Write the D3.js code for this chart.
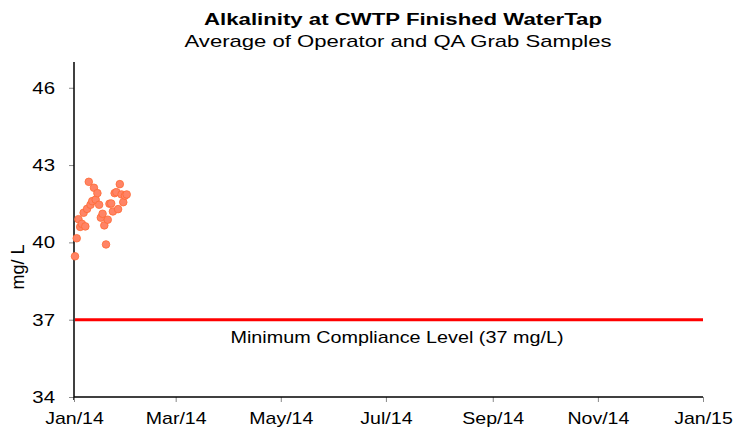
<!DOCTYPE html>
<html>
<head>
<meta charset="utf-8">
<script src="https://cdn.jsdelivr.net/npm/d3@7"></script>
<style>
	body { margin: 0; background: #fff; }
	text { font-family: "Liberation Sans", Arial, sans-serif; }
</style>
</head>
<body>
<div id="chart"></div>
<script>
// daily samples, Jan 2014
var sampleDates = ['2014-01-01','2014-01-02','2014-01-03','2014-01-04','2014-01-05','2014-01-06','2014-01-07','2014-01-08',
	'2014-01-09','2014-01-10','2014-01-11','2014-01-12','2014-01-13','2014-01-14','2014-01-15','2014-01-16',
	'2014-01-17','2014-01-18','2014-01-19','2014-01-20','2014-01-21','2014-01-22','2014-01-23','2014-01-24',
	'2014-01-25','2014-01-26','2014-01-27','2014-01-28','2014-01-29','2014-01-30','2014-01-31'];
var alkalinity = [39.46, 40.16, 40.9, 40.6, 40.72, 41.15, 40.62, 41.3,
	42.35, 41.46, 41.6, 42.12, 41.66, 41.91, 41.46, 40.96,
	41.11, 40.66, 39.92, 40.88, 41.5, 41.51, 41.2, 41.91,
	41.95, 41.29, 42.26, 41.86, 41.56, 41.81, 41.86];
var yTicks = [34, 37, 40, 43, 46];
var xTicks = ['2014-01-01','2014-03-01','2014-05-01','2014-07-01','2014-09-01','2014-11-01','2015-01-01'];
var minCompliance = 37;

var width = 738;
var height = 430;
var margin = {top: 62, right: 35, bottom: 33, left: 74};

var parseDate = d3.timeParse('%Y-%m-%d');
var data = sampleDates.map(function(d, i){
	return {date: parseDate(d), value: alkalinity[i]};
});

// the source text is drawn wider than the font, so stretch it a bit
function stretch(sel, k){
	sel.each(function(){
		var w = this.getComputedTextLength();
		d3.select(this)
			.attr('textLength', w * k)
			.attr('lengthAdjust', 'spacingAndGlyphs');
	});
}

var svg = d3.select('#chart')
			.append('svg')
			.attr('width', width)
			.attr('height', height);

var x_scale = d3.scaleTime()
				.domain([parseDate('2014-01-01'), parseDate('2015-01-01')])
				.range([margin.left, width - margin.right]);

var y_scale = d3.scaleLinear()
				.domain([34, 47])
				.range([height - margin.bottom, margin.top]);

// titles
svg.append('text')
	.attr('x', 403).attr('y', 25)
	.attr('text-anchor', 'middle')
	.style('font-size', '16px').style('font-weight', 'bold')
	.attr('textLength', 398).attr('lengthAdjust', 'spacingAndGlyphs')
	.text('Alkalinity at CWTP Finished WaterTap');
svg.append('text')
	.attr('x', 398).attr('y', 47)
	.attr('text-anchor', 'middle')
	.style('font-size', '17px')
	.attr('textLength', 427).attr('lengthAdjust', 'spacingAndGlyphs')
	.text('Average of Operator and QA Grab Samples');

// y axis
var y_axis = d3.axisLeft(y_scale)
				.tickValues(yTicks)
				.tickSize(5)
				.tickPadding(14);
var gy = svg.append('g')
	.attr('transform', 'translate(' + margin.left + ',0)')
	.call(y_axis);
gy.select('.domain').remove();
gy.selectAll('.tick line').attr('stroke', '#888');
gy.selectAll('.tick text').style('font-size', '17px').attr('fill', '#000').call(stretch, 1.2);
svg.append('line')
	.attr('x1', margin.left).attr('x2', margin.left)
	.attr('y1', margin.top).attr('y2', height - margin.bottom + 3)
	.attr('stroke', '#000').attr('stroke-width', 1.5);

// x axis
var x_axis = d3.axisBottom(x_scale)
				.tickValues(xTicks.map(parseDate))
				.tickFormat(d3.timeFormat('%b/%y'))
				.tickSize(5)
				.tickPadding(10);
var gx = svg.append('g')
	.attr('transform', 'translate(0,' + (height - margin.bottom) + ')')
	.call(x_axis);
gx.select('.domain').remove();
gx.selectAll('.tick line').attr('stroke', '#888');
gx.selectAll('.tick text').style('font-size', '17px').attr('fill', '#000').call(stretch, 1.15);
svg.append('line')
	.attr('x1', margin.left).attr('x2', width - margin.right)
	.attr('y1', height - margin.bottom).attr('y2', height - margin.bottom)
	.attr('stroke', '#000').attr('stroke-width', 1.5);

// y label
svg.append('text')
	.attr('transform', 'translate(24,' + 267 + ') rotate(-90)')
	.attr('text-anchor', 'middle')
	.style('font-size', '18px')
	.text('mg/ L');

// compliance line
svg.append('line')
	.attr('x1', margin.left + 1).attr('x2', width - margin.right)
	.attr('y1', y_scale(minCompliance)).attr('y2', y_scale(minCompliance))
	.attr('stroke', '#ff0000').attr('stroke-width', 3);
svg.append('text')
	.attr('x', 397).attr('y', y_scale(minCompliance) + 23)
	.attr('text-anchor', 'middle')
	.style('font-size', '17px')
	.attr('textLength', 333).attr('lengthAdjust', 'spacingAndGlyphs')
	.text('Minimum Compliance Level (37 mg/L)');

// samples
svg.append('g').selectAll('circle')
	.data(data)
	.enter()
	.append('circle')
	.attr('cx', function(d){ return x_scale(d.date) + 1; })
	.attr('cy', function(d){ return y_scale(d.value); })
	.attr('r', 3.8)
	.attr('fill', '#ff8466')
	.attr('stroke', '#ff6a33')
	.attr('stroke-width', 0.8);
</script>
</body>
</html>
